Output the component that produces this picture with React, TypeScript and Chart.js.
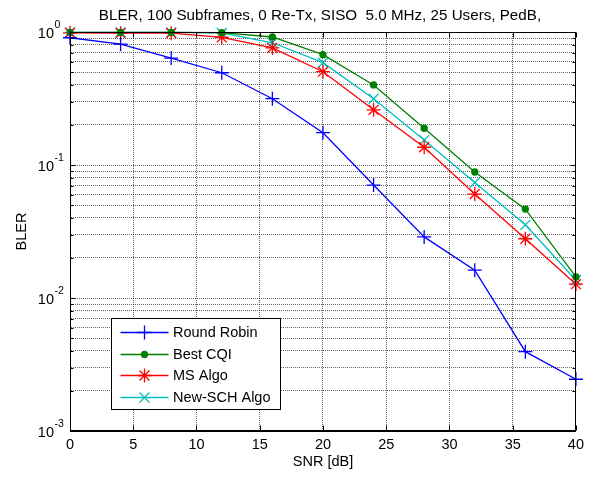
import React, { useEffect, useRef } from 'react';
import { Chart, registerables } from 'chart.js';
import { drawPoint } from 'chart.js/helpers';

Chart.register(...registerables);

const TITLE = 'BLER, 100 Subframes, 0 Re-Tx, SISO  5.0 MHz, 25 Users, PedB,';
const X_TITLE = 'SNR [dB]';
const Y_TITLE = 'BLER';

const SNR = [0, 4, 8, 12, 16, 20, 24, 28, 32, 36, 40];
const ROUND_ROBIN = [0.905, 0.81, 0.637, 0.494, 0.315, 0.175, 0.0707, 0.0288, 0.0162, 0.00395, 0.00245];
const BEST_CQI = [0.995, 0.995, 0.995, 0.99, 0.917, 0.675, 0.4, 0.189, 0.0886, 0.0466, 0.0144];
const MS_ALGO = [0.985, 0.98, 0.98, 0.91, 0.76, 0.503, 0.26, 0.136, 0.0605, 0.0279, 0.0127];
const NEW_SCH = [0.995, 0.995, 0.995, 0.985, 0.83, 0.588, 0.315, 0.154, 0.0738, 0.0355, 0.0136];

const SERIES_LABELS = ['Round Robin', 'Best CQI', 'MS Algo', 'New-SCH Algo'];
const SERIES_COLORS = ['#0000ff', '#008000', '#ff0000', '#00bfbf'];
const SERIES_STYLES = ['cross', 'circle', 'star', 'crossRot'];
const SERIES_RADII = [7, 3, 7, 7];

const X_MIN = 0;
const X_MAX = 40;
const X_STEP = 5;
const Y_DECADES = [0.001, 0.01, 0.1, 1];
const Y_EXPONENTS = ['-3', '-2', '-1', '0'];
const Y_MINOR_MULTIPLIERS = [2, 3, 4, 5, 6, 7, 8, 9];

const FONT = '"Liberation Sans", Arial, Helvetica, sans-serif';
const FS = 14.5;
const GRID_COLOR = 'rgba(0,0,0,0.6)';

function buildYTicks() {
  const out: number[] = [];
  for (let d = 0; d < Y_DECADES.length; d++) {
    out.push(Y_DECADES[d]);
    if (d < Y_DECADES.length - 1) {
      for (const m of Y_MINOR_MULTIPLIERS) out.push(Y_DECADES[d] * m);
    }
  }
  return out;
}

function isDecade(v: number) {
  const l = Math.log10(v);
  return Math.abs(l - Math.round(l)) < 1e-9;
}

const matlabPlugin = {
  id: 'matlabDecor',
  afterDraw(chart: any) {
    const { ctx, chartArea: a, scales } = chart;
    const xs = scales.x;
    const ys = scales.y;
    ctx.save();
    const L = Math.round(a.left) + 0.5;
    const R = Math.round(a.right) - 0.5;
    const T = Math.round(a.top) + 0.5;
    const B = Math.round(a.bottom) - 0.5;
    ctx.strokeStyle = '#000';
    ctx.lineWidth = 1;
    ctx.setLineDash([]);
    ctx.beginPath();
    ctx.rect(L, T, R - L, B - T);
    ctx.stroke();
    ctx.beginPath();
    xs.ticks.forEach((t: any) => {
      const px = Math.round(xs.getPixelForValue(t.value)) + 0.5;
      ctx.moveTo(px, B);
      ctx.lineTo(px, B - 5);
      ctx.moveTo(px, T);
      ctx.lineTo(px, T + 5);
    });
    ys.ticks.forEach((t: any) => {
      const py = Math.round(ys.getPixelForValue(t.value)) + 0.5;
      const len = isDecade(t.value) ? 5 : 3;
      ctx.moveTo(L, py);
      ctx.lineTo(L + len, py);
      ctx.moveTo(R, py);
      ctx.lineTo(R - len, py);
    });
    ctx.stroke();

    ctx.fillStyle = '#000';
    Y_DECADES.forEach((v, i) => {
      const py = ys.getPixelForValue(v);
      ctx.font = `${FS}px ${FONT}`;
      ctx.textAlign = 'right';
      ctx.textBaseline = 'alphabetic';
      ctx.fillText('10', 54, py + 5.5);
      ctx.font = `10.5px ${FONT}`;
      ctx.textAlign = 'left';
      ctx.fillText(Y_EXPONENTS[i], 54.5, py - 4.5);
    });

    ctx.font = `15.2px ${FONT}`;
    ctx.textAlign = 'center';
    ctx.textBaseline = 'alphabetic';
    ctx.fillText(TITLE, (a.left + a.right) / 2 - 3, 20);
    ctx.font = `${FS}px ${FONT}`;
    ctx.fillText(X_TITLE, (a.left + a.right) / 2, 466);
    ctx.save();
    ctx.translate(25.5, (a.top + a.bottom) / 2);
    ctx.rotate(-Math.PI / 2);
    ctx.fillText(Y_TITLE, 0, 0);
    ctx.restore();

    const lx = 111.5, ly = 318.5, lw = 169, lh = 91;
    ctx.fillStyle = '#fff';
    ctx.fillRect(lx, ly, lw, lh);
    ctx.strokeStyle = '#000';
    ctx.lineWidth = 1;
    ctx.strokeRect(lx, ly, lw, lh);
    chart.data.datasets.forEach((ds: any, i: number) => {
      const ry = 332 + i * 21.5;
      const yy = Math.round(ry) + 0.5;
      ctx.strokeStyle = ds.borderColor;
      ctx.lineWidth = 1.3;
      ctx.beginPath();
      ctx.moveTo(120.5, yy);
      ctx.lineTo(168.5, yy);
      ctx.stroke();
      ctx.fillStyle = ds.pointBackgroundColor;
      ctx.strokeStyle = ds.borderColor;
      ctx.lineWidth = 1.3;
      drawPoint(ctx, { pointStyle: ds.pointStyle, radius: ds.pointRadius, rotation: 0, borderWidth: 1.3 }, 144.5, yy);
      ctx.fillStyle = '#000';
      ctx.font = `${FS}px ${FONT}`;
      ctx.textAlign = 'left';
      ctx.textBaseline = 'middle';
      ctx.fillText(ds.label, 173, ry + 1);
    });
    ctx.restore();
  },
};

export default function App() {
  const ref = useRef<HTMLCanvasElement | null>(null);
  useEffect(() => {
    document.body.style.margin = '0';
    const canvas = ref.current;
    if (!canvas) return;
    const seriesValues = [ROUND_ROBIN, BEST_CQI, MS_ALGO, NEW_SCH];
    const datasets = seriesValues.map((vals, i) => ({
      label: SERIES_LABELS[i],
      data: SNR.map((x, j) => ({ x, y: vals[j] })),
      borderColor: SERIES_COLORS[i],
      backgroundColor: SERIES_COLORS[i],
      pointBackgroundColor: SERIES_COLORS[i],
      pointBorderColor: SERIES_COLORS[i],
      pointStyle: SERIES_STYLES[i],
      pointRadius: SERIES_RADII[i],
      pointBorderWidth: 1.3,
      borderWidth: 1.3,
      borderDash: [],
      tension: 0,
      fill: false,
      clip: false as any,
    }));
    const yTicks = buildYTicks();
    const chart = new Chart(canvas, {
      type: 'line',
      data: { datasets },
      plugins: [matlabPlugin],
      options: {
        animation: false,
        responsive: false,
        devicePixelRatio: 1,
        layout: { padding: { top: 32, right: 12, left: 0, bottom: 0 } },
        plugins: {
          legend: { display: false },
          title: { display: false },
          tooltip: { enabled: false },
        },
        scales: {
          x: {
            type: 'linear',
            min: X_MIN,
            max: X_MAX,
            ticks: {
              stepSize: X_STEP,
              color: '#000',
              font: { family: FONT, size: FS },
              padding: 5,
              maxRotation: 0,
            },
            grid: { color: GRID_COLOR, drawTicks: false, lineWidth: 1 },
            border: { display: true, color: '#000', dash: [1, 1] },
            afterFit: (s: any) => { s.height = 46; },
          },
          y: {
            type: 'logarithmic',
            min: 0.001,
            max: 1,
            afterBuildTicks: (s: any) => { s.ticks = yTicks.map((v) => ({ value: v })); },
            ticks: { display: false, autoSkip: false },
            grid: { color: GRID_COLOR, drawTicks: false, lineWidth: 1 },
            border: { display: true, color: '#000', dash: [1, 1] },
            afterFit: (s: any) => { s.width = 70; },
          },
        },
      },
    });
    return () => chart.destroy();
  }, []);
  return (
    <div style={{ width: 589, height: 477, background: '#fff' }}>
      <canvas ref={ref} width={589} height={477} style={{ display: 'block' }} />
    </div>
  );
}
